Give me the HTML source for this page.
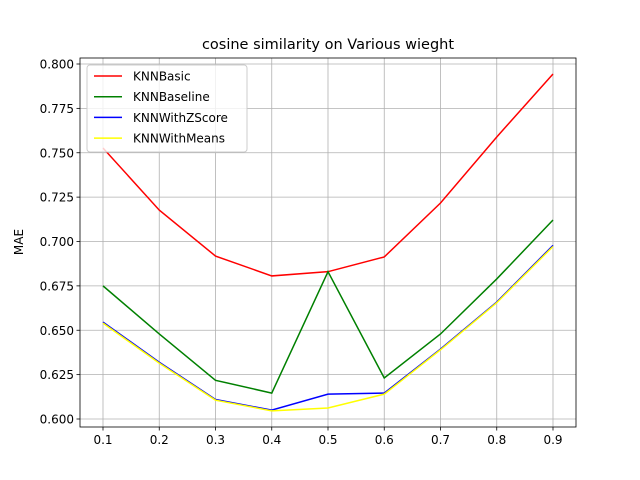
<!DOCTYPE html>
<html><head><meta charset="utf-8"><style>
body{margin:0;background:#fff;}
svg{display:block;font-family:"DejaVu Sans","Liberation Sans",sans-serif;}
</style></head><body>
<svg id="chart" width="640" height="480"></svg>
<script>
const categories=[0.1,0.2,0.3,0.4,0.5,0.6,0.7,0.8,0.9];
const knnBasic=[0.7527,0.7177,0.6918,0.6806,0.6830,0.6913,0.7217,0.7589,0.7944];
const knnBaseline=[0.675,0.6479,0.6218,0.6146,0.6830,0.6231,0.6479,0.6789,0.7121];
const knnWithZScore=[0.6546,0.632,0.6110,0.6050,0.6140,0.6146,0.6394,0.6659,0.6978];
const knnWithMeans=[0.6540,0.6315,0.6106,0.6046,0.6062,0.6140,0.6390,0.6655,0.6972];
const yTicks=[0.600,0.625,0.650,0.675,0.700,0.725,0.750,0.775,0.800];
const seriesNames=["KNNBasic","KNNBaseline","KNNWithZScore","KNNWithMeans"];
const seriesColors=["red","green","blue","yellow"];
const seriesData=[knnBasic,knnBaseline,knnWithZScore,knnWithMeans];

const NS="http://www.w3.org/2000/svg";
const svg=document.getElementById('chart');
const L=80,R=576,T=58,B=427;
const xs=v=>103+(v-0.1)/0.8*450;
const ys=v=>419-(v-0.6)/0.2*355;
function el(tag,attrs,parent){const e=document.createElementNS(NS,tag);for(const k in attrs)e.setAttribute(k,attrs[k]);(parent||svg).appendChild(e);return e;}

const title=el('text',{x:328,y:49,'text-anchor':'middle','font-size':14.5,fill:'#000'});


title.textContent='cosine similarity on Various wieght';

const grid=el('g',{});


categories.forEach(c=>{
  const x=xs(c);
  el('line',{x1:x,x2:x,y1:T,y2:B,stroke:'#b0b0b0','stroke-width':0.8},grid);
  el('line',{x1:x,x2:x,y1:B,y2:B+3.5,stroke:'#000','stroke-width':0.8});
  const t=el('text',{x:x,y:B+17,'text-anchor':'middle','font-size':12});
  
  
  t.textContent=c.toFixed(1);
});
yTicks.forEach(v=>{
  const y=ys(v);
  el('line',{x1:L,x2:R,y1:y,y2:y,stroke:'#b0b0b0','stroke-width':0.8},grid);
  el('line',{x1:L-3.5,x2:L,y1:y,y2:y,stroke:'#000','stroke-width':0.8});
  const t=el('text',{x:L-6,y:y+4.5,'text-anchor':'end','font-size':12});
  
  
  t.textContent=v.toFixed(3);
});
const yt=el('text',{x:23,y:242,'text-anchor':'middle','font-size':12,transform:'rotate(-90 23 242)'});


yt.textContent='MAE';

seriesData.forEach((d,i)=>{
  const p=el('polyline',{points:d.map((v,j)=>xs(categories[j])+','+ys(v)).join(' '),fill:'none',stroke:seriesColors[i],'stroke-width':1.5});
  
  
});

const frame=el('rect',{x:L,y:T,width:R-L,height:B-T,fill:'none',stroke:'#000','stroke-width':0.8});



const lg=el('g',{});


el('rect',{x:87,y:65,width:160,height:87,rx:3,fill:'#fff','fill-opacity':0.8,stroke:'#ccc','stroke-width':1},lg);
seriesNames.forEach((n,i)=>{
  const y=76+i*20.7;
  const g=el('g',{},lg);
  
  
  el('line',{x1:94,x2:122,y1:y,y2:y,stroke:seriesColors[i],'stroke-width':1.5},g);
  const t=el('text',{x:133,y:y+4.5,'font-size':12},g);
  t.textContent=n;
});
</script>
</body></html>
